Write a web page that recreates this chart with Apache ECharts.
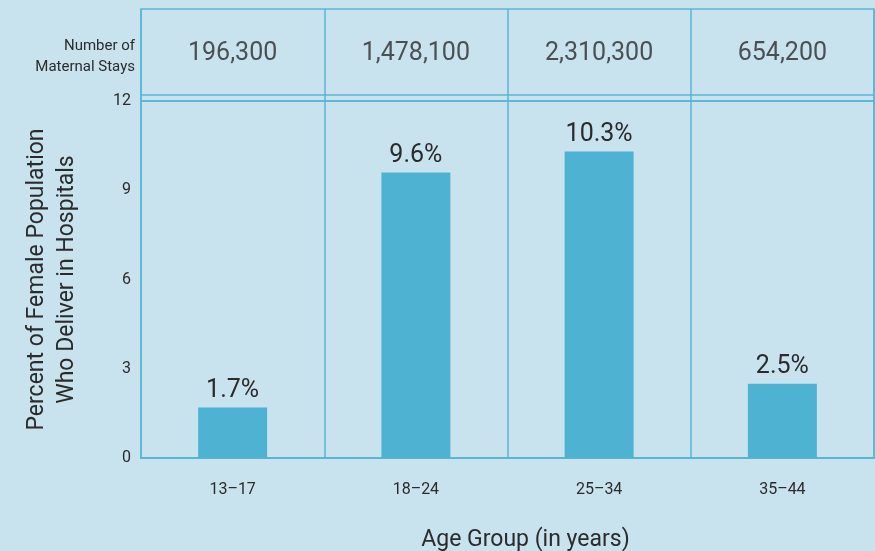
<!DOCTYPE html>
<html>
<head>
<meta charset="utf-8">
<script src="https://cdn.jsdelivr.net/npm/echarts@6/dist/echarts.min.js"></script>
<style>
html,body{margin:0;padding:0;background:#c8e3ee;}
#chart{width:875px;height:551px;}
</style>
</head>
<body>
<div id="chart"></div>
<script>
// age groups and values
var ageGroups = ['13–17', '18–24', '25–34', '35–44'];
var percentDeliver = [1.7, 9.6, 10.3, 2.5];
var maternalStays = ['196,300', '1,478,100', '2,310,300', '654,200'];
var yTicks = [0, 3, 6, 9, 12];

var lineColor = '#58b6d5';
var barColor = '#4eb3d3';
var textColor = '#2b2b2b';
var fontName = 'Roboto, "Liberation Sans", sans-serif';

var chart = echarts.init(document.getElementById('chart'));

// header row: stays numbers sit in their own little grid above the plot
var headerData = [];
for (var i = 0; i < ageGroups.length; i++) {
    headerData.push([i, 47]);
}

var option = {
    backgroundColor: '#c8e3ee',
    animation: false,
    textStyle: {fontFamily: fontName},
    title: {
        text: 'Number of\nMaternal Stays',
        left: 130,
        top: 31,
        textAlign: 'right',
        textStyle: {
            fontFamily: fontName,
            fontSize: 15,
            fontWeight: 'normal',
            color: textColor,
            lineHeight: 21
        }
    },
    grid: [
        {left: 141, right: 1, top: 9, height: 92, show: true, borderColor: lineColor, borderWidth: 1.5,
            backgroundColor: 'transparent', outerBoundsMode: 'none', containLabel: false},
        {left: 141, right: 1, top: 101, bottom: 93, show: true, borderColor: lineColor, borderWidth: 1.5,
            backgroundColor: 'transparent', outerBoundsMode: 'none', containLabel: false}
    ],
    xAxis: [
        {
            gridIndex: 0,
            type: 'category',
            data: ageGroups,
            axisLine: {show: false},
            axisTick: {show: false},
            axisLabel: {show: false},
            splitLine: {show: true, interval: 0, lineStyle: {color: lineColor, width: 1.5}}
        },
        {
            gridIndex: 1,
            type: 'category',
            data: ageGroups,
            axisLine: {show: true, lineStyle: {color: lineColor, width: 2}},
            axisTick: {show: false},
            axisLabel: {color: textColor, fontSize: 16, margin: 24, fontFamily: fontName},
            splitLine: {show: true, interval: 0, lineStyle: {color: lineColor, width: 1.5}},
            name: 'Age Group (in years)',
            nameLocation: 'middle',
            nameGap: 71,
            nameTextStyle: {color: textColor, fontSize: 23, fontFamily: fontName, padding: [0, 0, 0, 36]}
        }
    ],
    yAxis: [
        {
            gridIndex: 0,
            type: 'value',
            min: 0,
            max: 92,
            show: false,
            splitLine: {show: false}
        },
        {
            gridIndex: 1,
            type: 'value',
            min: yTicks[0],
            max: yTicks[yTicks.length - 1],
            interval: 3,
            axisLine: {show: false},
            axisTick: {show: false},
            splitLine: {show: false},
            axisLabel: {color: textColor, fontSize: 16, margin: 10, fontFamily: fontName},
            name: 'Percent of Female Population\nWho Deliver in Hospitals',
            nameLocation: 'middle',
            nameRotate: 90,
            nameGap: 59,
            nameTextStyle: {color: textColor, fontSize: 23, lineHeight: 30, fontFamily: fontName, align: 'center'}
        }
    ],
    series: [
        {
            type: 'scatter',
            xAxisIndex: 0,
            yAxisIndex: 0,
            symbolSize: 0,
            silent: true,
            data: headerData,
            label: {
                show: true,
                position: 'inside',
                color: textColor,
                fontSize: 25,
                fontFamily: fontName,
                formatter: function (p) { return maternalStays[p.dataIndex]; }
            },
            markLine: {
                silent: true,
                symbol: 'none',
                label: {show: false},
                lineStyle: {color: lineColor, width: 1.5, type: 'solid'},
                data: [{yAxis: 6}]
            }
        },
        {
            type: 'bar',
            xAxisIndex: 1,
            yAxisIndex: 1,
            barWidth: 69,
            data: percentDeliver,
            itemStyle: {color: barColor},
            label: {
                show: true,
                position: 'top',
                distance: 4,
                color: textColor,
                fontSize: 25,
                fontFamily: fontName,
                formatter: '{c}%'
            }
        }
    ]
};
chart.setOption(option);
</script>
</body>
</html>
